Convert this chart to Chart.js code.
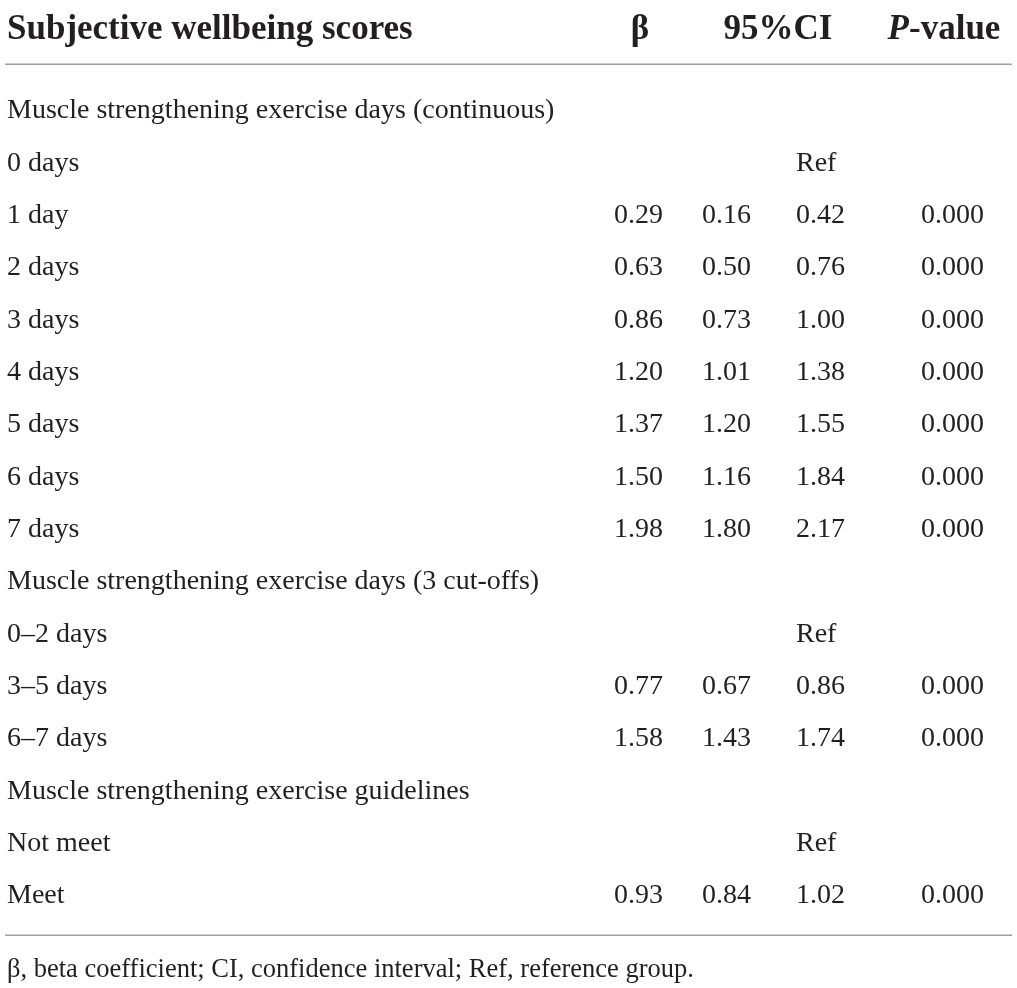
<!DOCTYPE html>
<html>
<head>
<meta charset="utf-8">
<script src="https://cdn.jsdelivr.net/npm/chart.js@4.4.1/dist/chart.umd.min.js"></script>
<style>
html,body{margin:0;padding:0;background:#fff;}
canvas{display:block;}
</style>
</head>
<body>
<canvas id="c" width="1017" height="988"></canvas>
<script>
// ---- data ----
const headerTitle = "Subjective wellbeing scores";
const headerCols = ["β", "95%CI", "P-value"];
const rowLabels = [
  "Muscle strengthening exercise days (continuous)",
  "0 days", "1 day", "2 days", "3 days", "4 days", "5 days", "6 days", "7 days",
  "Muscle strengthening exercise days (3 cut-offs)",
  "0–2 days", "3–5 days", "6–7 days",
  "Muscle strengthening exercise guidelines",
  "Not meet", "Meet"
];
const betaValues = [null, null, "0.29", "0.63", "0.86", "1.20", "1.37", "1.50", "1.98", null, null, "0.77", "1.58", null, null, "0.93"];
const ciLower    = [null, null, "0.16", "0.50", "0.73", "1.01", "1.20", "1.16", "1.80", null, null, "0.67", "1.43", null, null, "0.84"];
const ciUpper    = [null, "Ref", "0.42", "0.76", "1.00", "1.38", "1.55", "1.84", "2.17", null, "Ref", "0.86", "1.74", null, "Ref", "1.02"];
const pValues    = [null, null, "0.000", "0.000", "0.000", "0.000", "0.000", "0.000", "0.000", null, null, "0.000", "0.000", null, null, "0.000"];
const footnote = "β, beta coefficient; CI, confidence interval; Ref, reference group.";

// ---- style / layout ----
const TEXT = "#231f20";
const RULE = "#a0a0a0";
const SERIF = "'Liberation Serif', 'DejaVu Serif', serif";
const HEAD_PX = 35, BODY_PX = 28, FOOT_PX = 26.5;
const TEXT_DY = 2;
const colX = { label: 7, beta: 614, lo: 702, hi: 796, p: 921, hBeta: 640, hCI: 778, hP: 944 };
const ROW_HEADER = -1.55, RULE_TOP = -0.86, RULE_BOTTOM = 15.78, ROW_FOOT = 16.42;

function pts(arr, x) {
  return arr.map((v, i) => v === null ? null : { x: x, y: i, t: v }).filter(Boolean);
}

const tablePlugin = {
  id: 'tableText',
  afterDatasetsDraw(chart) {
    const ctx = chart.ctx, xs = chart.scales.x, ys = chart.scales.y;
    ctx.save();
    ctx.fillStyle = TEXT;
    ctx.textBaseline = 'middle';
    const hy = ys.getPixelForValue(ROW_HEADER) + TEXT_DY;
    // header
    ctx.font = "bold " + HEAD_PX + "px " + SERIF;
    ctx.textAlign = 'left';
    ctx.fillText(headerTitle, xs.getPixelForValue(colX.label), hy);
    ctx.textAlign = 'center';
    ctx.fillText(headerCols[0], xs.getPixelForValue(colX.hBeta), hy);
    ctx.fillText(headerCols[1], xs.getPixelForValue(colX.hCI), hy);
    // P-value: italic P + bold -value
    const hp = headerCols[2];
    const pPart = hp.slice(0, 1), rest = hp.slice(1);
    ctx.font = "italic bold " + HEAD_PX + "px " + SERIF;
    const w1 = ctx.measureText(pPart).width;
    ctx.font = "bold " + HEAD_PX + "px " + SERIF;
    const w2 = ctx.measureText(rest).width;
    const startX = xs.getPixelForValue(colX.hP) - (w1 + w2) / 2;
    ctx.textAlign = 'left';
    ctx.font = "italic bold " + HEAD_PX + "px " + SERIF;
    ctx.fillText(pPart, startX, hy);
    ctx.font = "bold " + HEAD_PX + "px " + SERIF;
    ctx.fillText(rest, startX + w1, hy);
    // rules
    ctx.strokeStyle = RULE;
    ctx.lineWidth = 1.5;
    [RULE_TOP, RULE_BOTTOM].forEach(r => {
      const y = Math.round(ys.getPixelForValue(r)) + 0.25;
      ctx.beginPath();
      ctx.moveTo(xs.getPixelForValue(5), y);
      ctx.lineTo(xs.getPixelForValue(1012), y);
      ctx.stroke();
    });
    // row labels
    ctx.font = BODY_PX + "px " + SERIF;
    ctx.textAlign = 'left';
    rowLabels.forEach((lab, i) => {
      ctx.fillText(lab, xs.getPixelForValue(colX.label), ys.getPixelForValue(i) + TEXT_DY);
    });
    // cell values from datasets (left-aligned columns)
    chart.data.datasets.forEach((ds, di) => {
      const meta = chart.getDatasetMeta(di);
      meta.data.forEach((el, j) => {
        ctx.fillText(ds.data[j].t, el.x, el.y + TEXT_DY);
      });
    });
    // footnote
    ctx.font = FOOT_PX + "px " + SERIF;
    ctx.fillText(footnote, xs.getPixelForValue(colX.label), ys.getPixelForValue(ROW_FOOT) + TEXT_DY);
    ctx.restore();
  }
};

new Chart(document.getElementById('c'), {
  type: 'scatter',
  data: {
    datasets: [
      { label: 'β', data: pts(betaValues, colX.beta) },
      { label: 'CI lower', data: pts(ciLower, colX.lo) },
      { label: 'CI upper', data: pts(ciUpper, colX.hi) },
      { label: 'P-value', data: pts(pValues, colX.p) }
    ]
  },
  options: {
    responsive: false,
    animation: false,
    devicePixelRatio: 1,
    layout: { padding: 0 },
    elements: { point: { radius: 0, hoverRadius: 0 } },
    plugins: { legend: { display: false }, tooltip: { enabled: false } },
    scales: {
      x: { type: 'linear', min: 0, max: 1017, display: false },
      y: { type: 'linear', reverse: true, min: -109 / 52.33, max: (988 - 109) / 52.33, display: false }
    }
  },
  plugins: [tablePlugin]
});
</script>
</body>
</html>
